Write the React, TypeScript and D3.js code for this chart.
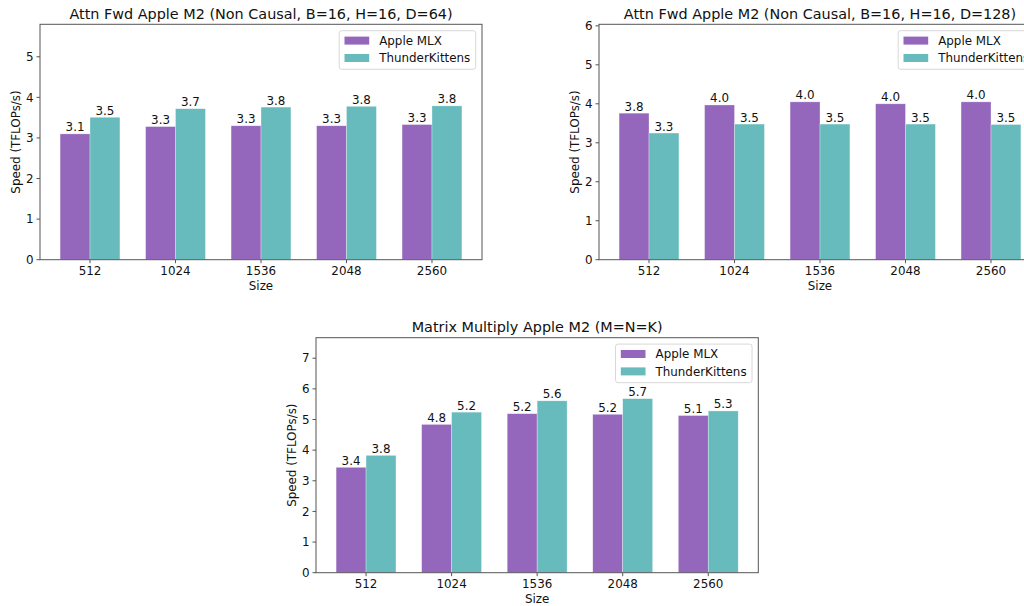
import React from "react";
import * as d3 from "d3";

const sizes = ["512", "1024", "1536", "2048", "2560"];
const seriesNames = ["Apple MLX", "ThunderKittens"];
const colors = ["#9467bd", "#67bbbd"];

const attn64Mlx = [3.1, 3.28, 3.3, 3.3, 3.33];
const attn64Tk = [3.51, 3.72, 3.76, 3.78, 3.79];
const attn128Mlx = [3.76, 3.97, 4.05, 4.0, 4.05];
const attn128Tk = [3.25, 3.48, 3.48, 3.48, 3.47];
const matMlx = [3.44, 4.84, 5.19, 5.17, 5.13];
const matTk = [3.83, 5.24, 5.61, 5.68, 5.28];

const ticks64 = [0, 1, 2, 3, 4, 5];
const ticks128 = [0, 1, 2, 3, 4, 5, 6];
const ticksMat = [0, 1, 2, 3, 4, 5, 6, 7];

const titles = [
  "Attn Fwd Apple M2 (Non Causal, B=16, H=16, D=64)",
  "Attn Fwd Apple M2 (Non Causal, B=16, H=16, D=128)",
  "Matrix Multiply Apple M2 (M=N=K)",
];

const FONT = "DejaVu Sans, sans-serif";
const FS = 11.9;

type PanelProps = {
  left: number; top: number; right: number; bottom: number;
  ymax: number; ticks: number[]; title: string; mlx: number[]; tk: number[];
};

function Panel({ left, top, right, bottom, ymax, ticks, title, mlx, tk }: PanelProps) {
  const x = d3.scaleLinear().domain([-0.585, 4.585]).range([left, right]);
  const y = d3.scaleLinear().domain([0, ymax]).range([bottom, top]);
  const bw = 0.35;
  const series = [mlx, tk];
  const lw = 136.5;
  const lx = right - 6.3 - lw;
  const ly = top + 6.4;
  return (
    <g fontFamily={FONT}>
      {series.map((vals, si) =>
        vals.map((v, i) => {
          const x0 = si === 0 ? x(i - bw) : x(i);
          const x1 = si === 0 ? x(i) : x(i + bw);
          return (
            <g key={`${si}-${i}`}>
              <rect x={x0} y={y(v)} width={x1 - x0} height={y(0) - y(v)} fill={colors[si]} stroke="#ffffff" strokeOpacity={0.5} strokeWidth={0.6} />
              <text x={(x0 + x1) / 2} y={y(v) - 2.5} textAnchor="middle" fontSize={FS} fill="#111">
                {d3.format(".1f")(v)}
              </text>
            </g>
          );
        })
      )}
      <rect x={left} y={top} width={right - left} height={bottom - top} fill="none" stroke="#555" strokeWidth={1} />
      {ticks.map((t) => (
        <g key={t}>
          <line x1={left - 3.5} x2={left} y1={y(t)} y2={y(t)} stroke="#555" />
          <text x={left - 6.5} y={y(t) + 4.2} textAnchor="end" fontSize={FS} fill="#111">{t}</text>
        </g>
      ))}
      {sizes.map((s, i) => (
        <g key={s}>
          <line x1={x(i)} x2={x(i)} y1={bottom} y2={bottom + 3.5} stroke="#555" />
          <text x={x(i)} y={bottom + 15.3} textAnchor="middle" fontSize={FS} fill="#111">{s}</text>
        </g>
      ))}
      <text x={(left + right) / 2} y={bottom + 30.6} textAnchor="middle" fontSize={FS} fill="#111">Size</text>
      <text transform={`translate(${left - 20},${(top + bottom) / 2}) rotate(-90)`} textAnchor="middle" fontSize={FS} fill="#111">Speed (TFLOPs/s)</text>
      <text x={(left + right) / 2} y={top - 5.5} textAnchor="middle" fontSize={14.4} fill="#111">{title}</text>
      <rect x={lx} y={ly} width={lw} height={38.6} rx={2.5} fill="#fff" fillOpacity={0.8} stroke="#d8d8d8" strokeWidth={1} />
      {seriesNames.map((n, k) => (
        <g key={n}>
          <rect x={lx + 5.3} y={ly + 5.9 + k * 17.4} width={24.7} height={8} fill={colors[k]} />
          <text x={lx + 40} y={ly + 14.1 + k * 17.4} fontSize={FS} fill="#111">{n}</text>
        </g>
      ))}
    </g>
  );
}

export default function App() {
  return (
    <div style={{ position: "absolute", left: 0, top: 0 }}>
      <svg width={1024} height={606} style={{ display: "block", background: "#fff" }}>
        <Panel left={40} top={24.3} right={482} bottom={259.7} ymax={5.8} ticks={ticks64} title={titles[0]} mlx={attn64Mlx} tk={attn64Tk} />
        <Panel left={599} top={24.3} right={1041} bottom={259.7} ymax={6.04} ticks={ticks128} title={titles[1]} mlx={attn128Mlx} tk={attn128Tk} />
        <Panel left={316} top={337.7} right={758.3} bottom={572.7} ymax={7.67} ticks={ticksMat} title={titles[2]} mlx={matMlx} tk={matTk} />
      </svg>
    </div>
  );
}
